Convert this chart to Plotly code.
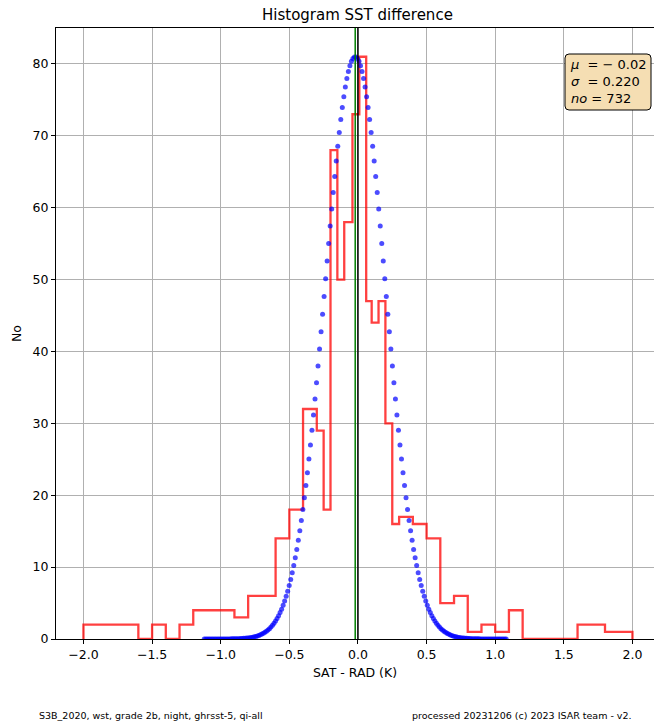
import numpy as np
import plotly.graph_objects as go

# ---- data ----
bin_edges = [-2.0, -1.6, -1.5, -1.4, -1.3, -1.2, -0.9, -0.8, -0.6, -0.5, -0.4,
             -0.3, -0.25, -0.2, -0.15, -0.1, -0.04, 0.01, 0.06, 0.1, 0.15,
             0.2, 0.25, 0.3, 0.4, 0.5, 0.6, 0.7, 0.8, 0.9, 1.0, 1.1, 1.2,
             1.6, 1.8, 2.0]
bin_counts = [2, 0, 2, 0, 2, 4, 3, 6, 14, 18, 32, 29, 18, 68, 50, 58, 73, 81,
              47, 44, 47, 30, 16, 17, 16, 14, 5, 6, 1, 2, 1, 4, 0, 2, 1]

MU = -0.02
SIGMA = 0.220
N_OBS = 732
PEAK = max(bin_counts)
N_CURVE = 200

x_ticks = [-2.0, -1.5, -1.0, -0.5, 0.0, 0.5, 1.0, 1.5, 2.0]
x_tick_text = ["\u22122.0", "\u22121.5", "\u22121.0", "\u22120.5", "0.0", "0.5", "1.0", "1.5", "2.0"]
y_ticks = [0, 10, 20, 30, 40, 50, 60, 70, 80]

# fitted normal curve (model from the stated mean / sigma)
gx = np.linspace(MU - 5 * SIGMA, MU + 5 * SIGMA, N_CURVE)
gy = PEAK * np.exp(-0.5 * ((gx - MU) / SIGMA) ** 2)

# step outline of the histogram
sx = [bin_edges[0]] + list(bin_edges) + [bin_edges[-1]]
sy = [0] + list(bin_counts) + [bin_counts[-1], 0]

FONT = "DejaVu Sans"
ML, MT, PW, PH = 56, 28, 598, 611


def px(xp):
    return (xp - ML) / PW


def py(yp):
    return (MT + PH - yp) / PH


fig = go.Figure()
fig.add_trace(go.Scatter(x=sx, y=sy, mode="lines", line_shape="hv",
                         line=dict(color="rgba(255,0,0,0.75)", width=2.3),
                         hoverinfo="skip", showlegend=False))
fig.add_trace(go.Scatter(x=gx, y=gy, mode="markers",
                         marker=dict(color="rgba(0,0,255,0.7)", size=5, line=dict(width=0)),
                         showlegend=False))

fig.add_shape(type="line", x0=MU, x1=MU, y0=0, y1=1, yref="paper", xref="x",
              line=dict(color="green", width=1.5), layer="above")
fig.add_shape(type="line", x0=0, x1=0, y0=0, y1=1, yref="paper", xref="x",
              line=dict(color="black", width=1.5), layer="above")

# rounded stats box
bx0, bx1, by0, by1, r = 565, 651, 54, 110, 4
path = (f"M {px(bx0 + r)} {py(by0)} L {px(bx1 - r)} {py(by0)} "
        f"Q {px(bx1)} {py(by0)} {px(bx1)} {py(by0 + r)} "
        f"L {px(bx1)} {py(by1 - r)} Q {px(bx1)} {py(by1)} {px(bx1 - r)} {py(by1)} "
        f"L {px(bx0 + r)} {py(by1)} Q {px(bx0)} {py(by1)} {px(bx0)} {py(by1 - r)} "
        f"L {px(bx0)} {py(by0 + r)} Q {px(bx0)} {py(by0)} {px(bx0 + r)} {py(by0)} Z")
fig.add_shape(type="path", path=path, xref="paper", yref="paper",
              fillcolor="#f5deb3", line=dict(color="black", width=1), layer="above")

fig.update_layout(
    width=654, height=726,
    margin=dict(l=ML, r=0, t=MT, b=726 - MT - PH),
    paper_bgcolor="white", plot_bgcolor="white",
    font=dict(family=FONT, size=12.5, color="black"),
    xaxis=dict(range=[-2.2, 2.157], tickvals=x_ticks, ticktext=x_tick_text,
               showgrid=True, gridcolor="#b0b0b0", gridwidth=1,
               showline=True, linecolor="black", linewidth=1, mirror=True,
               ticks="outside", ticklen=4, tickcolor="black", zeroline=False,
               title=dict(text="SAT - RAD (K)", standoff=7, font=dict(size=12.5))),
    yaxis=dict(range=[0, 85], tickvals=y_ticks,
               showgrid=True, gridcolor="#b0b0b0", gridwidth=1,
               showline=True, linecolor="black", linewidth=1,
               ticks="outside", ticklen=4, tickcolor="black", zeroline=False,
               title=dict(text="No", standoff=8, font=dict(size=12.5))),
)

fig.add_annotation(text="Histogram SST difference", xref="x", yref="paper",
                   x=0, y=1, yshift=13, showarrow=False, yanchor="middle",
                   font=dict(size=15, family=FONT))

fig.add_annotation(
    text=f"<i>\u03bc</i>  = \u2212 {abs(MU):.2f}<br><i>\u03c3</i>  = {SIGMA:.3f}<br><i>no</i> = {N_OBS}",
    xref="paper", yref="paper", x=px(bx0 + 3), y=py((by0 + by1) / 2),
    xanchor="left", yanchor="middle",
    align="left", showarrow=False, font=dict(size=13, family=FONT))

fig.add_annotation(text="S3B_2020, wst, grade 2b, night, ghrsst-5, qi-all",
                   xref="paper", yref="paper", x=px(37), y=py(715),
                   xanchor="left", yanchor="middle", showarrow=False,
                   font=dict(size=9.5, family=FONT))
fig.add_annotation(text="processed 20231206 (c) 2023 ISAR team - v2.",
                   xref="paper", yref="paper", x=px(410), y=py(715),
                   xanchor="left", yanchor="middle", showarrow=False,
                   font=dict(size=9.5, family=FONT))

fig.write_html("out.html")
